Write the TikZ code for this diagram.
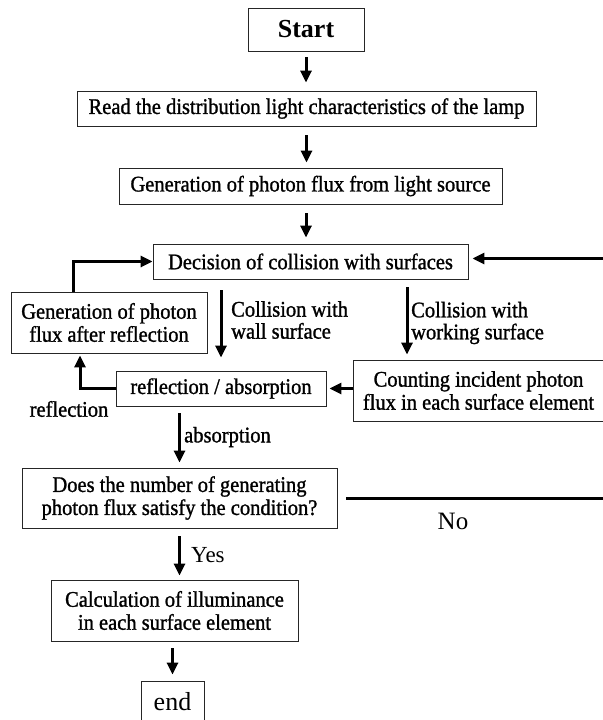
\documentclass[tikz,border=0pt]{standalone}
\usepackage{fontspec}
\setmainfont{Liberation Serif}
\newfontfamily\boxfont{Liberation Serif}[FakeStretch=0.92, FakeBold=1.2]
\usetikzlibrary{arrows.meta,positioning,calc}

\begin{document}
\begin{tikzpicture}[x=1bp, y=-1bp,
    box/.style={rectangle, draw=black!85, line width=0.9bp, inner sep=0pt, align=center,
        font=\boxfont\fontsize{22.3bp}{23bp}\selectfont},
    arr/.style={-{Triangle[length=12bp,width=11bp]}, line width=3bp},
    lbl/.style={inner sep=0pt, align=left, font=\boxfont\fontsize{22.3bp}{22bp}\selectfont}
]
\useasboundingbox (0,0) rectangle (603,720);
\clip (0,0) rectangle (603,720);

% main column
\node[box, minimum width=116bp, minimum height=43bp, font=\fontsize{26bp}{28bp}\selectfont\bfseries]
    (start) at (306,29.5) {Start};
\node[box, minimum width=459bp, minimum height=35bp] (read) at (306.5,108.5)
    {Read the distribution light characteristics of the lamp};
\node[box, minimum width=383bp, minimum height=36bp] (gen) at (310.5,186)
    {Generation of photon flux from light source};
\node[box, minimum width=315bp, minimum height=35bp] (dec) at (310.5,261.5)
    {Decision of collision with surfaces};

\draw[arr, shorten <=6bp, shorten >=8bp] (start.south) -- (start.south |- read.north);
\draw[arr, shorten <=9bp, shorten >=5bp] (read.south) -- (read.south |- gen.north);
\draw[arr, shorten <=9bp, shorten >=6bp] (gen.south -| start.south) -- (dec.north -| start.south);

% collision loop
\node[box, minimum width=196bp, minimum height=61bp] (genr) at (109,322.5)
    {Generation of photon\\flux after reflection};
\node[box, minimum width=210bp, minimum height=35bp] (ra) at (221,388.5)
    {reflection / absorption};
\node[box, minimum width=251bp, minimum height=61bp] (cnt) at (478.5,390.5)
    {Counting incident photon\\flux in each surface element};

\coordinate (lp) at (73,0);
\coordinate (rf) at (80,0);
\coordinate (wk) at (407,0);

\draw[arr, shorten <=11bp, shorten >=13bp] (ra.north |- dec.south) -- (ra.north);
\node[lbl, anchor=west] at (231,320) {Collision with\\wall surface};

\draw[arr, shorten <=8bp, shorten >=5bp] (dec.south -| wk) -- (cnt.north -| wk);
\node[lbl, anchor=west] at (411,323) {Collision with\\working surface};

\draw[arr, shorten >=3bp] (cnt.west |- ra.east) -- (ra.east);
\draw[arr, shorten >=2bp] (ra.west) -| (genr.south -| rf);
\node[lbl] at (69,409) {reflection};
\draw[arr] (genr.north -| lp) |- (dec.west);

% check and output
\node[box, minimum width=315bp, minimum height=60bp] (does) at (179.5,498)
    {Does the number of generating\\photon flux satisfy the condition?};
\draw[arr, shorten <=7bp, shorten >=5bp] (does.north |- ra.south) -- (does.north);
\node[lbl, anchor=west] at (184,437) {absorption};

\coordinate (far) at (612,0);
\draw[arr, shorten <=9bp, shorten >=4bp] (does.east) -- (does.east -| far)
    |- ([yshift=3bp]dec.east);
\node[lbl, font=\fontsize{25bp}{27bp}\selectfont] at (453,521) {No};

\node[box, minimum width=247bp, minimum height=61bp] (calc) at (174.5,610.5)
    {Calculation of illuminance\\in each surface element};
\draw[arr, shorten <=8bp, shorten >=4bp] (does.south) -- (does.south |- calc.north);
\node[lbl, anchor=west, font=\fontsize{23bp}{25bp}\selectfont] at (191,555) {Yes};

\node[box, minimum width=63bp, minimum height=42bp, font=\fontsize{26bp}{28bp}\selectfont]
    (stop) at (172.5,702) {end};
\draw[arr, shorten <=7bp, shorten >=6bp] (calc.south -| stop.north) -- (stop.north);
\end{tikzpicture}
\end{document}
